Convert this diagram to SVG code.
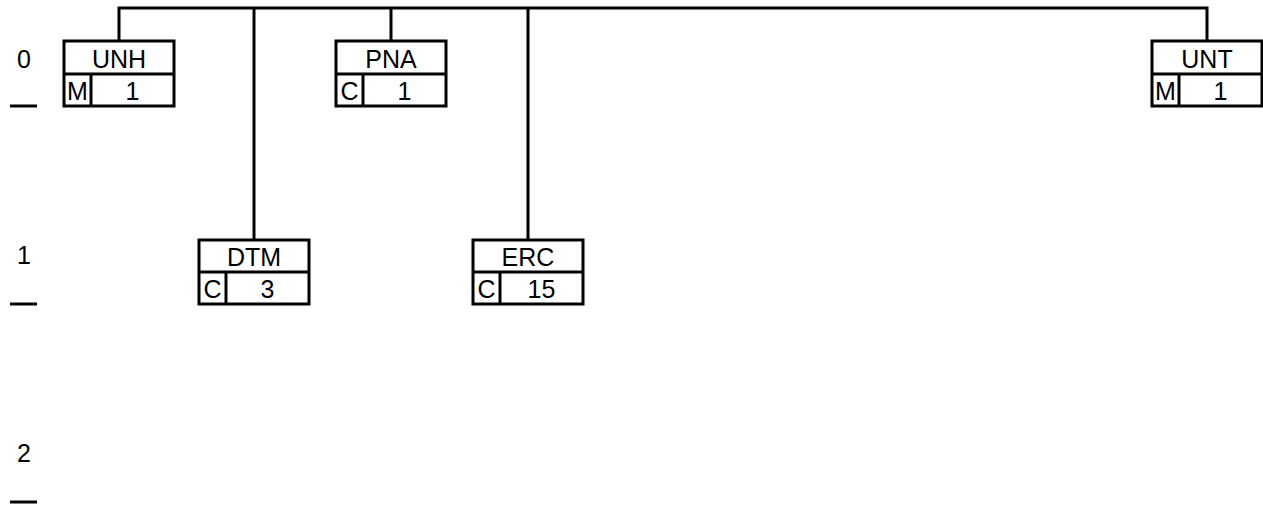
<svg xmlns="http://www.w3.org/2000/svg" width="1263" height="508" viewBox="0 0 1263 508">
<style>
.b{fill:#fff;stroke:#000;stroke-width:3}
.l{fill:none;stroke:#000;stroke-width:3}
text{font-family:"Liberation Sans",Arial,sans-serif;font-size:25px;fill:#000;text-anchor:middle}
</style>
<rect width="1263" height="508" fill="#fff"/>
<g id="levels">
<text x="24" y="68">0</text>
<line class="l" x1="10" y1="106" x2="37" y2="106"/>
<text x="24" y="264">1</text>
<line class="l" x1="10" y1="304" x2="37" y2="304"/>
<text x="24" y="462">2</text>
<line class="l" x1="10" y1="502" x2="37" y2="502"/>
</g>
<g id="connectors">
<polyline class="l" points="119,41 119,8 1207,8 1207,41"/>
<line class="l" x1="254" y1="8" x2="254" y2="240"/>
<line class="l" x1="391" y1="8" x2="391" y2="41"/>
<line class="l" x1="528" y1="8" x2="528" y2="240"/>
</g>
<g id="UNH">
<rect class="b" x="64" y="41" width="110" height="65"/>
<line class="l" x1="64" y1="74" x2="174" y2="74"/>
<line class="l" x1="91" y1="74" x2="91" y2="106"/>
<text x="119" y="68">UNH</text>
<text x="77.5" y="100">M</text>
<text x="132.5" y="100">1</text>
</g>
<g id="PNA">
<rect class="b" x="336" y="41" width="110" height="65"/>
<line class="l" x1="336" y1="74" x2="446" y2="74"/>
<line class="l" x1="363" y1="74" x2="363" y2="106"/>
<text x="391" y="68">PNA</text>
<text x="349.5" y="100">C</text>
<text x="404.5" y="100">1</text>
</g>
<g id="UNT">
<rect class="b" x="1152" y="41" width="110" height="65"/>
<line class="l" x1="1152" y1="74" x2="1262" y2="74"/>
<line class="l" x1="1179" y1="74" x2="1179" y2="106"/>
<text x="1207" y="68">UNT</text>
<text x="1165.5" y="100">M</text>
<text x="1220.5" y="100">1</text>
</g>
<g id="DTM">
<rect class="b" x="199" y="240" width="110" height="64"/>
<line class="l" x1="199" y1="272" x2="309" y2="272"/>
<line class="l" x1="226" y1="272" x2="226" y2="304"/>
<text x="254" y="266">DTM</text>
<text x="212.5" y="298">C</text>
<text x="267.5" y="298">3</text>
</g>
<g id="ERC">
<rect class="b" x="473" y="240" width="110" height="64"/>
<line class="l" x1="473" y1="272" x2="583" y2="272"/>
<line class="l" x1="500" y1="272" x2="500" y2="304"/>
<text x="528" y="266">ERC</text>
<text x="486.5" y="298">C</text>
<text x="541.5" y="298">15</text>
</g>
</svg>
